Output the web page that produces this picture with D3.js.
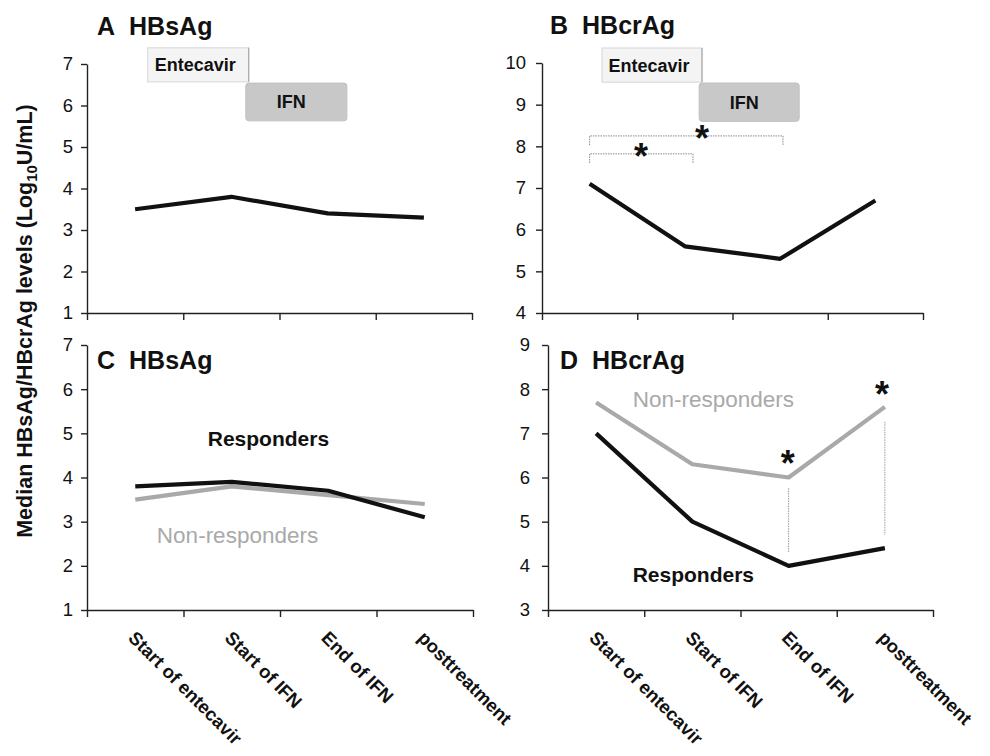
<!DOCTYPE html>
<html><head><meta charset="utf-8">
<script src="https://cdn.jsdelivr.net/npm/d3@7"></script>
<style>
body{margin:0;background:#fff}
svg{display:block;background:#fff}
text{font-family:"Liberation Sans",Arial,Helvetica,sans-serif}
</style>
</head><body>
<svg id="chart" width="990" height="756"></svg>
<script>
// ---------- data ----------
const categories = ["Start of entecavir", "Start of IFN", "End of IFN", "posttreatment"];
const hbsAgAll = [3.5, 3.8, 3.4, 3.3];
const hbcrAgAll = [7.1, 5.6, 5.3, 6.7];
const hbsAgResponders = [3.8, 3.9, 3.7, 3.1];
const hbsAgNonResponders = [3.5, 3.8, 3.6, 3.4];
const hbcrAgResponders = [7.0, 5.0, 4.0, 4.4];
const hbcrAgNonResponders = [7.7, 6.3, 6.0, 7.6];
const yTicksA = [1, 2, 3, 4, 5, 6, 7];
const yTicksB = [4, 5, 6, 7, 8, 9, 10];
const yTicksC = [1, 2, 3, 4, 5, 6, 7];
const yTicksD = [3, 4, 5, 6, 7, 8, 9];
const treatmentNames = ["Entecavir", "IFN"];
const treatmentSpans = [[0.63, 1.68], [1.65, 2.70]];          // in category-edge units
const treatmentLevelsA = [[6.57, 7.39], [5.63, 6.54]];
const treatmentLevelsB = [[9.54, 10.36], [8.60, 9.52]];
const bracketsB = [ {from: 0.5, to: 1.585, level: 7.82, drop: 0.22, starAt: 1.04, starLevel: 7.96},
                    {from: 0.5, to: 2.53, level: 8.25, drop: 0.22, starAt: 1.68, starLevel: 8.39} ];
const dropLinesD = [ {at: 2.5, from: 4.31, to: 5.76, starAt: 2.49, starLevel: 6.51},
                     {at: 3.5, from: 4.70, to: 7.26, starAt: 3.47, starLevel: 8.07} ];
const yTitleMain = "Median HBsAg/HBcrAg levels (Log";
const yTitleSub = "10";
const yTitleEnd = "U/mL)";

// ---------- layout ----------
const svg = d3.select("#chart");
const FONT = '"Liberation Sans",Arial,Helvetica,sans-serif';
const BLACK = "#111", GREY = "#a9a9a9";

const panels = [
  {id: "A", name: "HBsAg", x0: 87, x1: 472, yT: 64, yB: 313, ticks: yTicksA, pad: 8, titleInside: false},
  {id: "B", name: "HBcrAg", x0: 542, x1: 923, yT: 63, yB: 313, ticks: yTicksB, pad: 10, titleInside: false},
  {id: "C", name: "HBsAg", x0: 87, x1: 473, yT: 345, yB: 610, ticks: yTicksC, pad: 8, titleInside: true},
  {id: "D", name: "HBcrAg", x0: 548, x1: 933, yT: 345, yB: 610, ticks: yTicksD, pad: 12, titleInside: true}
];

panels.forEach(p => {
  p.x = d3.scaleLinear().domain([0, categories.length]).range([p.x0, p.x1]);
  p.y = d3.scaleLinear().domain(d3.extent(p.ticks)).range([p.yB, p.yT]);
  p.g = svg.append("g");
  const ya = p.g.append("g").attr("transform", `translate(${p.x0},0)`)
    .call(d3.axisLeft(p.y).tickValues(p.ticks).tickFormat(d3.format("d")).tickSize(6).tickSizeOuter(0).tickPadding(p.pad));
  const xa = p.g.append("g").attr("transform", `translate(0,${p.yB})`)
    .call(d3.axisBottom(p.x).tickValues(d3.range(categories.length + 1)).tickFormat("").tickSize(7).tickSizeOuter(0));
  [ya, xa].forEach(a => {
    a.selectAll("path,line").attr("stroke", "#222").attr("stroke-width", 1.4);
    a.selectAll("text").attr("font-family", FONT).attr("font-size", 18.5).attr("fill", "#111");
  });
  const tx = p.x0 + (p.id === "B" ? 8 : (p.id === "D" ? 12 : 10));
  const ty = p.titleInside ? p.yT + 24 : p.yT - 29;
  const t = p.g.append("text").attr("x", tx).attr("y", ty)
    .attr("font-size", 25).attr("font-weight", "bold").attr("fill", "#111");
  t.append("tspan").text(p.id);
  t.append("tspan").attr("dx", 14).text(p.name);
});

const line = (p) => d3.line().x((d, i) => p.x(i + 0.5)).y(d => p.y(d));

function drawSeries(p, values, color) {
  p.g.append("path").datum(values).attr("d", line(p))
    .attr("fill", "none").attr("stroke", color).attr("stroke-width", 4.2)
    .attr("stroke-linejoin", "round").attr("stroke-linecap", "butt");
}

function drawTreatments(p, levels) {
  treatmentNames.forEach((name, k) => {
    const [a, b] = treatmentSpans[k];
    const [lo, hi] = levels[k];
    const gx = p.x(a), gw = p.x(b) - p.x(a), gy = p.y(hi), gh = p.y(lo) - p.y(hi);
    p.g.append("rect").attr("x", gx).attr("y", gy).attr("width", gw).attr("height", gh)
      .attr("rx", k === 1 ? 3 : 0)
      .attr("fill", k === 0 ? "#f4f4f4" : "#c8c8c8")
      .attr("stroke", k === 0 ? "#d6d6d6" : "#c0c0c0").attr("stroke-width", 1);
    if (k === 0) {
      p.g.append("line").attr("x1", gx + gw).attr("x2", gx + gw).attr("y1", gy).attr("y2", gy + gh)
        .attr("stroke", "#a8a8a8").attr("stroke-width", 1.2);
    }
    p.g.append("text").attr("x", gx + gw / 2 - (k === 1 ? 5 : 3)).attr("y", gy + gh / 2 + 6.5)
      .attr("text-anchor", "middle").attr("font-size", 18).attr("font-weight", "bold")
      .attr("fill", "#111").text(name);
  });
}

function star(p, at, level) {
  const fs = 36;
  p.g.append("text").attr("x", p.x(at)).attr("y", p.y(level) + 0.58 * fs)
    .attr("text-anchor", "middle").attr("font-size", fs).attr("font-weight", "bold")
    .attr("fill", "#111").text("*");
}

const [pA, pB, pC, pD] = panels;

// Panel A
drawTreatments(pA, treatmentLevelsA);
drawSeries(pA, hbsAgAll, BLACK);

// Panel B
drawTreatments(pB, treatmentLevelsB);
bracketsB.forEach(b => {
  const pts = [[b.from, b.level - b.drop], [b.from, b.level], [b.to, b.level], [b.to, b.level - b.drop]];
  pB.g.append("path")
    .attr("d", d3.line().x(d => pB.x(d[0])).y(d => pB.y(d[1]))(pts))
    .attr("fill", "none").attr("stroke", "#8a8a8a").attr("stroke-width", 1)
    .attr("stroke-dasharray", "1.5,1");
  star(pB, b.starAt, b.starLevel);
});
drawSeries(pB, hbcrAgAll, BLACK);

// Panel C
drawSeries(pC, hbsAgNonResponders, GREY);
drawSeries(pC, hbsAgResponders, BLACK);
pC.g.append("text").attr("x", pC.x(1.88)).attr("y", pC.y(4.71)).attr("text-anchor", "middle")
  .attr("font-size", 21).attr("font-weight", "bold").attr("fill", "#111").text("Responders");
pC.g.append("text").attr("x", pC.x(1.56)).attr("y", pC.y(2.52)).attr("text-anchor", "middle")
  .attr("font-size", 22.5).attr("fill", GREY).text("Non-responders");

// Panel D
dropLinesD.forEach(d => {
  pD.g.append("line").attr("x1", pD.x(d.at)).attr("x2", pD.x(d.at))
    .attr("y1", pD.y(d.to)).attr("y2", pD.y(d.from))
    .attr("stroke", "#9a9a9a").attr("stroke-width", 1).attr("stroke-dasharray", "1.5,1");
  star(pD, d.starAt, d.starLevel);
});
drawSeries(pD, hbcrAgNonResponders, GREY);
drawSeries(pD, hbcrAgResponders, BLACK);
pD.g.append("text").attr("x", pD.x(0.88)).attr("y", pD.y(7.6))
  .attr("font-size", 22.5).attr("fill", GREY).text("Non-responders");
pD.g.append("text").attr("x", pD.x(0.88)).attr("y", pD.y(3.63))
  .attr("font-size", 21).attr("font-weight", "bold").attr("fill", "#111").text("Responders");

// x category labels (bottom panels)
[pC, pD].forEach(p => {
  p.g.selectAll(".xl").data(categories).join("text").attr("class", "xl")
    .attr("transform", (d, i) => `translate(${p.x(i + 0.5) - 8},${p.yB + 29}) rotate(45)`)
    .attr("text-anchor", "start").attr("font-size", 18.5).attr("font-weight", "bold")
    .attr("fill", "#111").text(d => d);
});

// shared y title
const yt = svg.append("text").attr("transform", "translate(32,321) rotate(-90)")
  .attr("text-anchor", "middle").attr("font-size", 21.5).attr("font-weight", "bold").attr("fill", "#111");
yt.append("tspan").text(yTitleMain);
yt.append("tspan").attr("font-size", 15).attr("dy", 5).text(yTitleSub);
yt.append("tspan").attr("dy", -5).text(yTitleEnd);
</script>
</body></html>
